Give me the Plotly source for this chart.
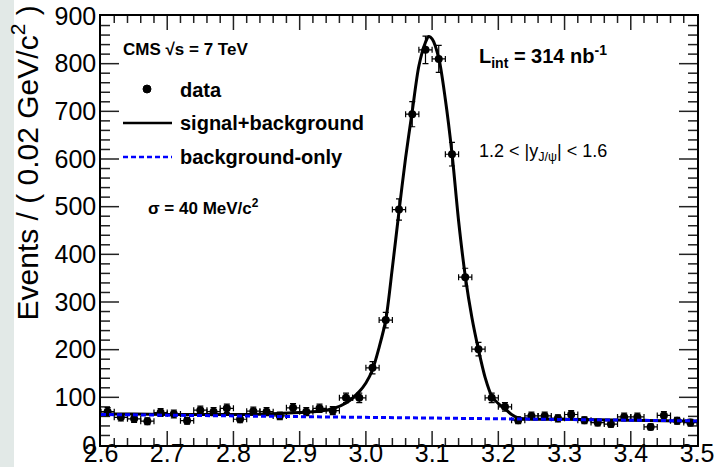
import plotly.graph_objects as go
import math

# ---- data ----
mass = [2.61, 2.63, 2.65, 2.67, 2.69, 2.71, 2.73, 2.75, 2.77, 2.79,
        2.81, 2.83, 2.85, 2.87, 2.89, 2.91, 2.93, 2.95, 2.97, 2.99,
        3.01, 3.03, 3.05, 3.07, 3.09, 3.11, 3.13, 3.15, 3.17, 3.19,
        3.21, 3.23, 3.25, 3.27, 3.29, 3.31, 3.33, 3.35, 3.37, 3.39,
        3.41, 3.43, 3.45, 3.47, 3.49]
events = [70, 58, 55, 50, 68, 65, 51, 73, 70, 77,
          54, 71, 70, 61, 78, 70, 77, 72, 99, 99,
          162, 262, 494, 694, 829, 810, 610, 352, 201, 99,
          80, 52, 61, 61, 56, 64, 52, 47, 44, 59,
          59, 38, 62, 51, 47]
event_err = [math.sqrt(v) for v in events]
half_bin = 0.01

fit_x = [2.60, 2.65, 2.70, 2.75, 2.80, 2.85, 2.90, 2.93, 2.95, 2.97,
         2.99, 3.00, 3.01, 3.02, 3.03, 3.04, 3.05, 3.06, 3.07, 3.08,
         3.09, 3.095, 3.10, 3.11, 3.12, 3.13, 3.14, 3.15, 3.16, 3.17,
         3.18, 3.19, 3.20, 3.21, 3.22, 3.23, 3.24, 3.26, 3.30, 3.35,
         3.40, 3.45, 3.50]
fit_y = [65, 65, 64, 64, 64, 65, 68, 71, 76, 88,
         112, 130, 158, 205, 262, 372, 490, 603, 700, 795,
         845, 857, 852, 812, 725, 612, 470, 355, 268, 200,
         142, 103, 87, 76, 64, 57, 55, 54, 54, 53,
         52, 51, 50]

bkg_x = [2.60, 3.00, 3.50]
bkg_y = [64, 57.5, 50.5]

# axis tick settings
x_range = [2.6, 3.5]
x_major_ticks = [2.6, 2.7, 2.8, 2.9, 3.0, 3.1, 3.2, 3.3, 3.4, 3.5]
x_minor_step = 0.02
y_range = [0, 900]
y_major_ticks = [0, 100, 200, 300, 400, 500, 600, 700, 800, 900]
y_minor_step = 20

# ---- geometry helpers (pixel -> paper) ----
L, R, T, B = 101, 697, 16, 445
PW, PH = R - L, B - T
def px(v): return (v - L) / PW
def py(v): return (B - v) / PH

FONT = "Liberation Sans, Arial, Helvetica, sans-serif"

# tick lengths converted from pixels to axis units
xu_per_px = (x_range[1] - x_range[0]) / PW
yu_per_px = (y_range[1] - y_range[0]) / PH

tick_x, tick_y = [], []
n_xminor = int(round((x_range[1] - x_range[0]) / x_minor_step))
for i in range(1, n_xminor):
    v = round(x_range[0] + i * x_minor_step, 4)
    ln = (14 if any(abs(v - m) < 1e-6 for m in x_major_ticks) else 7) * yu_per_px
    tick_x += [v, v, None, v, v, None]
    tick_y += [y_range[0], y_range[0] + ln, None, y_range[1], y_range[1] - ln, None]
n_yminor = int(round((y_range[1] - y_range[0]) / y_minor_step))
for i in range(1, n_yminor):
    v = y_range[0] + i * y_minor_step
    ln = (18 if v in y_major_ticks else 9) * xu_per_px
    tick_x += [x_range[0], x_range[0] + ln, None, x_range[1], x_range[1] - ln, None]
    tick_y += [v, v, None, v, v, None]

fig = go.Figure()
fig.add_trace(go.Scatter(
    x=tick_x, y=tick_y, mode="lines", line=dict(color="#222222", width=1.5),
    hoverinfo="skip", showlegend=False, connectgaps=False))
fig.add_trace(go.Scatter(
    x=mass, y=events, mode="markers",
    marker=dict(color="black", size=8),
    error_y=dict(type="data", array=event_err, color="black", thickness=1.2, width=3),
    error_x=dict(type="constant", value=half_bin, color="black", thickness=1.2, width=3),
    showlegend=False))
fig.add_trace(go.Scatter(
    x=fit_x, y=fit_y, mode="lines",
    line=dict(color="black", width=3, shape="spline", smoothing=0.8),
    showlegend=False))
fig.add_trace(go.Scatter(
    x=bkg_x, y=bkg_y, mode="lines",
    line=dict(color="#0000ff", width=3, dash="5px,3px"),
    showlegend=False))

fig.update_xaxes(
    range=x_range, tickmode="array", tickvals=x_major_ticks,
    ticktext=[f"{v:.1f}" for v in x_major_ticks],
    showline=True, linecolor="black", linewidth=1.5, mirror=True,
    ticks="", showgrid=False, zeroline=False, automargin=False, ticklabelstandoff=-15,
    tickfont=dict(family=FONT, size=25, color="black"),
)
fig.update_yaxes(
    range=y_range, tickmode="array", tickvals=y_major_ticks,
    showline=True, linecolor="black", linewidth=1.5, mirror=True,
    ticks="", showgrid=False, zeroline=False, automargin=False, ticklabelstandoff=-2,
    tickfont=dict(family=FONT, size=25, color="black"),
)

shapes = [
    dict(type="rect", xref="paper", yref="paper", x0=px(0), x1=px(14), y0=py(467), y1=py(0),
         fillcolor="#e2e9e7", line=dict(width=0), layer="below"),
    dict(type="circle", xref="paper", yref="paper", x0=px(143), x1=px(151), y0=py(93), y1=py(85),
         fillcolor="black", line=dict(color="black", width=1)),
    dict(type="line", xref="paper", yref="paper", x0=px(123), x1=px(172), y0=py(123), y1=py(123),
         line=dict(color="black", width=2.5)),
    dict(type="line", xref="paper", yref="paper", x0=px(123), x1=px(172), y0=py(157), y1=py(157),
         line=dict(color="#0000ff", width=2.5, dash="5px,3px")),
]

def ann(text, x, y, size, bold=False, **kw):
    d = dict(text=f"<b>{text}</b>" if bold else text, xref="paper", yref="paper",
             x=px(x), y=py(y), xanchor="left", yanchor="middle", showarrow=False,
             font=dict(family=FONT, size=size, color="black"))
    d.update(kw)
    return d

annotations = [
    ann("CMS √s = 7 TeV", 121, 50, 17, bold=True),
    ann("data", 178, 90, 20, bold=True),
    ann("signal+background", 178, 123, 20, bold=True),
    ann("background-only", 178, 157, 20, bold=True),
    ann("σ = 40 MeV/c<sup>2</sup>", 146, 207, 17, bold=True),
    ann("L<sub>int</sub> = 314 nb<sup>-1</sup>", 477, 57, 20, bold=True),
    ann("1.2 < |y<sub>J/ψ</sub>| < 1.6", 477, 153, 18),
    dict(text="Events / ( 0.02 GeV/c<sup>2</sup> )", xref="paper", yref="paper",
         x=px(25), y=py(4), xanchor="center", yanchor="top", textangle=-90, showarrow=False,
         font=dict(family=FONT, size=30, color="black")),
]

fig.update_layout(
    width=716, height=467, autosize=False,
    margin=dict(l=L, r=716 - R, t=T, b=467 - B, pad=0),
    paper_bgcolor="white", plot_bgcolor="white",
    shapes=shapes, annotations=annotations,
)

fig.write_html("out.html")
